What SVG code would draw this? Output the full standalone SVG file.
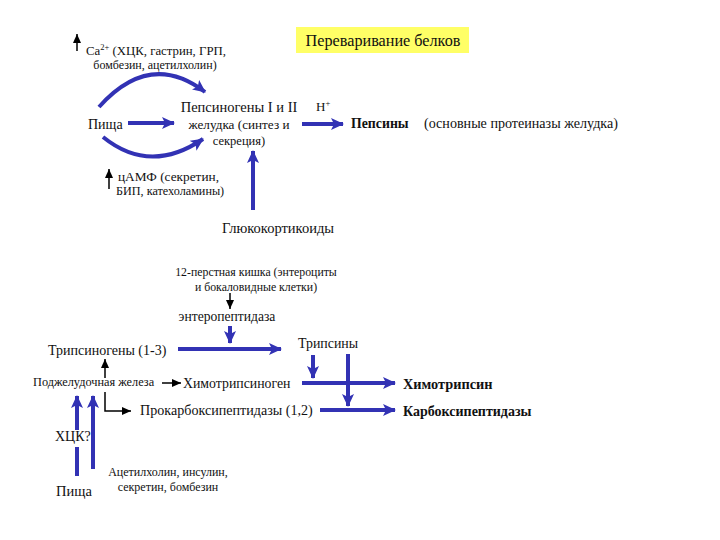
<svg xmlns="http://www.w3.org/2000/svg" width="720" height="540" viewBox="0 0 720 540">
<style>
text{font-family:"Liberation Serif","Times New Roman",serif;fill:#111}
.b{stroke:#3232b4;stroke-width:4;fill:none}
.k{stroke:#000;stroke-width:1.5;fill:none}
.bold{font-weight:bold}
</style>
<defs>
<marker id="ab" markerUnits="userSpaceOnUse" markerWidth="14" markerHeight="12" refX="12" refY="6" orient="auto"><path d="M0,0 L13,6 L0,12 L3,6 Z" fill="#3232b4"/></marker>
<marker id="ak" markerUnits="userSpaceOnUse" markerWidth="10" markerHeight="8" refX="9" refY="4" orient="auto"><path d="M0,0 L9,4 L0,8 Z" fill="#000"/></marker>
</defs>
<rect width="720" height="540" fill="#fff"/>
<g id="title"><rect x="296" y="27" width="173" height="26" fill="#ffff66"/><text x="383" y="46" font-size="16.2" text-anchor="middle">Переваривание белков</text></g>
<g id="ca"><text x="86" y="55" font-size="12.8">Ca<tspan font-size="8.5" dy="-5">2+</tspan><tspan dy="5"> (ХЦК, гастрин, ГРП,</tspan></text><text x="155" y="69" font-size="12" text-anchor="middle">бомбезин, ацетилхолин)</text></g>
<g id="food1"><text x="88" y="129" font-size="14">Пища</text></g>
<g id="pepsinogen"><text x="239" y="112" font-size="14.5" text-anchor="middle">Пепсиногены I и II</text><text x="239" y="129" font-size="13.2" text-anchor="middle">желудка (синтез и</text><text x="239" y="145" font-size="12.5" text-anchor="middle">секреция)</text></g>
<g id="hplus"><text x="316" y="111" font-size="13">H<tspan font-size="8.5" dy="-5">+</tspan></text></g>
<g id="pepsin"><text x="351" y="128" font-size="13.8" class="bold">Пепсины</text><text x="424" y="128" font-size="14.1">(основные протеиназы желудка)</text></g>
<g id="camp"><text x="118" y="181" font-size="13.3">цАМФ (секретин,</text><text x="116" y="195" font-size="12.2">БИП, катехоламины)</text></g>
<g id="gluco"><text x="278" y="233" font-size="14.5" text-anchor="middle">Глюкокортикоиды</text></g>
<g id="duodenum"><text x="256" y="276" font-size="11.8" text-anchor="middle">12-перстная кишка (энтероциты</text><text x="256" y="291" font-size="11.8" text-anchor="middle">и бокаловидные клетки)</text></g>
<g id="entero"><text x="227" y="321" font-size="13.6" text-anchor="middle">энтеропептидаза</text></g>
<g id="trypsinogen"><text x="48" y="355" font-size="14">Трипсиногены (1-3)</text></g>
<g id="trypsin"><text x="298" y="348" font-size="13.9">Трипсины</text></g>
<g id="pancreas"><text x="33" y="386" font-size="12.3">Поджелудочная железа</text></g>
<g id="chymotrypsinogen"><text x="183" y="388" font-size="13.8">Химотрипсиноген</text></g>
<g id="procarboxy"><text x="140" y="415" font-size="14.1">Прокарбоксипептидазы (1,2)</text></g>
<g id="chymotrypsin"><text x="403" y="389" font-size="14.3" class="bold">Химотрипсин</text></g>
<g id="carboxy"><text x="403" y="416" font-size="14" class="bold">Карбоксипептидазы</text></g>
<g id="cck"><text x="55" y="441" font-size="14">ХЦК?</text></g>
<g id="food2"><text x="56" y="496" font-size="14.5">Пища</text></g>
<g id="acetyl"><text x="168" y="476" font-size="12" text-anchor="middle">Ацетилхолин, инсулин,</text><text x="168" y="491" font-size="12" text-anchor="middle">секретин, бомбезин</text></g>
<g id="connectors">
<line class="k" x1="77" y1="51" x2="77" y2="34" marker-end="url(#ak)"/>
<line class="k" x1="109" y1="189" x2="109" y2="169" marker-end="url(#ak)"/>
<path class="b" d="M99,107 Q150,50 205,92" marker-end="url(#ab)"/>
<line class="b" x1="128" y1="123" x2="174" y2="123" marker-end="url(#ab)"/>
<path class="b" d="M103,137 Q150,175 203,139" marker-end="url(#ab)"/>
<line class="b" x1="253" y1="210" x2="253" y2="151" marker-end="url(#ab)"/>
<line class="b" x1="302" y1="124" x2="343" y2="124" marker-end="url(#ab)"/>
<line class="k" x1="230" y1="293" x2="230" y2="309" marker-end="url(#ak)"/>
<line class="b" x1="230" y1="326" x2="230" y2="343" stroke-width="3" marker-end="url(#ab)"/>
<line class="b" x1="178" y1="349" x2="281" y2="349" marker-end="url(#ab)"/>
<line class="k" x1="105" y1="378" x2="105" y2="359" marker-end="url(#ak)"/>
<line class="k" x1="162" y1="383" x2="181" y2="383" marker-end="url(#ak)"/>
<path class="k" d="M105,392 V411 H131" marker-end="url(#ak)"/>
<line class="b" x1="302" y1="383" x2="395" y2="383" marker-end="url(#ab)"/>
<line class="b" x1="320" y1="410" x2="395" y2="410" marker-end="url(#ab)"/>
<line class="b" x1="313" y1="355" x2="313" y2="378" marker-end="url(#ab)"/>
<line class="b" x1="348" y1="354" x2="348" y2="406" marker-end="url(#ab)"/>
<line class="b" x1="77" y1="476" x2="77" y2="447"/>
<line class="b" x1="77" y1="430" x2="77" y2="396" marker-end="url(#ab)"/>
<line class="b" x1="93" y1="469" x2="93" y2="396" marker-end="url(#ab)"/>
</g>
</svg>
